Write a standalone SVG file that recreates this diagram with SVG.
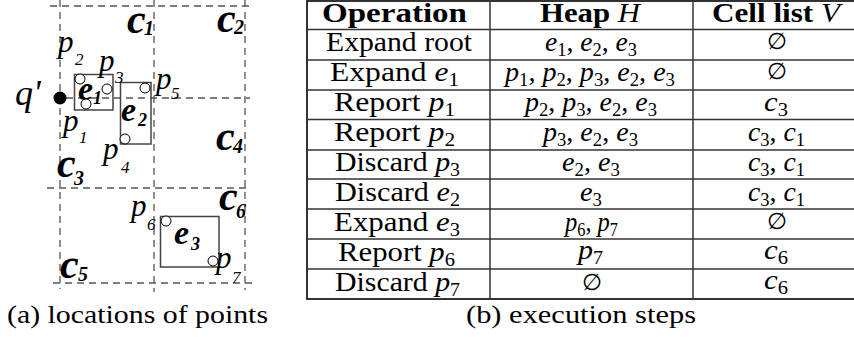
<svg xmlns="http://www.w3.org/2000/svg" width="854" height="337" viewBox="0 0 854 337">
  <style>
    .grid { fill: none; stroke: #555; stroke-width: 1.3; stroke-dasharray: 7 5; }
    .mbr { fill: none; stroke: #444; stroke-width: 1.5; }
    .pt { fill: #fff; stroke: #000; stroke-width: 1; }
    .it { font-family: "Liberation Serif", "Times New Roman", serif; font-style: italic; fill: #000; }
    .p { font-size: 31px; }
    .ps { font-size: 17px; }
    .cl { font-size: 42px; font-weight: bold; }
    .cs { font-size: 20px; font-weight: bold; }
    .el { font-size: 34px; font-weight: bold; }
    .es { font-size: 18px; font-weight: bold; }
    .tb { font-family: "Liberation Serif", "DejaVu Serif", serif; font-size: 27px; fill: #000; }
    .hd { font-weight: bold; }
    .mi { font-style: italic; }
    .sb { font-size: 18px; }
    .es0 { font-size: 23px; }
    .rule { stroke: #333; stroke-width: 1.5; }
    .frame { fill: none; stroke: #000; stroke-width: 1.6; }
    .cap { font-family: "Liberation Serif", "DejaVu Serif", serif; font-size: 26px; fill: #000; }
  </style>

  <!-- (a) grid of cells -->
  <g id="grid">
    <line class="grid" x1="60" y1="0" x2="60" y2="289"/>
    <line class="grid" x1="154" y1="0" x2="154" y2="292"/>
    <line class="grid" x1="245" y1="0" x2="245" y2="290"/>
    <line class="grid" x1="50" y1="6" x2="252" y2="6"/>
    <line class="grid" x1="66" y1="98" x2="250" y2="98"/>
    <line class="grid" x1="47" y1="188" x2="250" y2="188"/>
    <line class="grid" x1="53" y1="283" x2="255" y2="283"/>
  </g>

  <!-- cell labels -->
  <g id="cells">
    <text class="it cl" x="127" y="33">c<tspan class="cs" x="144" y="35">1</tspan></text>
    <text class="it cl" x="217" y="32">c<tspan class="cs" x="234" y="34">2</tspan></text>
    <text class="it cl" x="57" y="177">c<tspan class="cs" x="74" y="185">3</tspan></text>
    <text class="it cl" x="216" y="150">c<tspan class="cs" x="233" y="153">4</tspan></text>
    <text class="it cl" x="60" y="278">c<tspan class="cs" x="78" y="281">5</tspan></text>
    <text class="it cl" x="219" y="210">c<tspan class="cs" x="236" y="218">6</tspan></text>
  </g>

  <!-- query point -->
  <g id="q">
    <circle cx="60" cy="98" r="6.5" fill="#000"/>
    <text class="it" font-size="36" x="15" y="105">q'</text>
  </g>

  <!-- MBR e1 -->
  <g id="e1">
    <rect class="mbr" x="74.5" y="74.5" width="38.5" height="35.5"/>
    <text class="it el" x="78" y="100">e<tspan class="es" x="93" y="104">1</tspan></text>
  </g>

  <!-- MBR e2 -->
  <g id="e2">
    <rect class="mbr" x="120.5" y="82.5" width="30.5" height="61.5"/>
    <text class="it el" x="121" y="121">e<tspan class="es" x="138" y="126">2</tspan></text>
  </g>

  <!-- MBR e3 -->
  <g id="e3">
    <rect class="mbr" x="160.5" y="216.5" width="58.5" height="50.5"/>
    <text class="it el" x="174" y="244">e<tspan class="es" x="191" y="250">3</tspan></text>
  </g>

  <!-- data points -->
  <g id="p1">
    <circle class="pt" cx="86" cy="104" r="5"/>
    <text class="it p" x="63" y="131">p<tspan class="ps" x="79" y="143">1</tspan></text>
  </g>
  <g id="p2">
    <circle class="pt" cx="80" cy="79" r="5"/>
    <text class="it p" x="58" y="52">p<tspan class="ps" x="75" y="65">2</tspan></text>
  </g>
  <g id="p3">
    <circle class="pt" cx="107" cy="89" r="5"/>
    <text class="it p" x="99" y="71">p<tspan class="ps" x="115" y="83">3</tspan></text>
  </g>
  <g id="p4">
    <circle class="pt" cx="125" cy="139" r="5"/>
    <text class="it p" x="103" y="159">p<tspan class="ps" x="121" y="173">4</tspan></text>
  </g>
  <g id="p5">
    <circle class="pt" cx="145" cy="88" r="5"/>
    <text class="it p" x="156" y="89">p<tspan class="ps" x="171" y="99">5</tspan></text>
  </g>
  <g id="p6">
    <circle class="pt" cx="166" cy="221" r="5"/>
    <text class="it p" x="131" y="216">p<tspan class="ps" x="147" y="230">6</tspan></text>
  </g>
  <g id="p7">
    <circle class="pt" cx="213" cy="261" r="5"/>
    <text class="it p" x="216" y="268">p<tspan class="ps" x="232" y="283">7</tspan></text>
  </g>

  <!-- (b) table of steps -->
  <g id="table">
    <rect class="frame" x="307" y="1" width="548" height="298"/>
    <line class="rule" x1="490" y1="1" x2="490" y2="299"/>
    <line class="rule" x1="693" y1="1" x2="693" y2="299"/>
    <line class="rule" x1="307" y1="29.5" x2="854" y2="29.5"/>
    <line class="rule" x1="307" y1="60" x2="854" y2="60"/>
    <line class="rule" x1="307" y1="90" x2="854" y2="90"/>
    <line class="rule" x1="307" y1="119.5" x2="854" y2="119.5"/>
    <line class="rule" x1="307" y1="150" x2="854" y2="150"/>
    <line class="rule" x1="307" y1="179" x2="854" y2="179"/>
    <line class="rule" x1="307" y1="209" x2="854" y2="209"/>
    <line class="rule" x1="307" y1="239" x2="854" y2="239"/>
    <line class="rule" x1="307" y1="269" x2="854" y2="269"/>

    <!-- header -->
    <text class="tb hd" x="322" y="22" textLength="145" lengthAdjust="spacingAndGlyphs">Operation</text>
    <text class="tb" x="540" y="22" textLength="100" lengthAdjust="spacingAndGlyphs"><tspan class="hd">Heap </tspan><tspan class="mi">H</tspan></text>
    <text class="tb" x="712" y="22" textLength="128" lengthAdjust="spacingAndGlyphs"><tspan class="hd">Cell list </tspan><tspan class="mi">V</tspan></text>

    <!-- operation column -->
    <text class="tb" x="326" y="51" textLength="146" lengthAdjust="spacingAndGlyphs">Expand root</text>
    <text class="tb" x="330" y="81" textLength="129" lengthAdjust="spacingAndGlyphs">Expand <tspan class="mi">e</tspan><tspan class="sb" dy="5">1</tspan></text>
    <text class="tb" x="334" y="111" textLength="121" lengthAdjust="spacingAndGlyphs">Report <tspan class="mi">p</tspan><tspan class="sb" dy="5">1</tspan></text>
    <text class="tb" x="334" y="141" textLength="121" lengthAdjust="spacingAndGlyphs">Report <tspan class="mi">p</tspan><tspan class="sb" dy="5">2</tspan></text>
    <text class="tb" x="335" y="171" textLength="125" lengthAdjust="spacingAndGlyphs">Discard <tspan class="mi">p</tspan><tspan class="sb" dy="5">3</tspan></text>
    <text class="tb" x="335" y="201" textLength="125" lengthAdjust="spacingAndGlyphs">Discard <tspan class="mi">e</tspan><tspan class="sb" dy="5">2</tspan></text>
    <text class="tb" x="334" y="231" textLength="126" lengthAdjust="spacingAndGlyphs">Expand <tspan class="mi">e</tspan><tspan class="sb" dy="5">3</tspan></text>
    <text class="tb" x="338" y="261" textLength="117" lengthAdjust="spacingAndGlyphs">Report <tspan class="mi">p</tspan><tspan class="sb" dy="5">6</tspan></text>
    <text class="tb" x="335" y="291" textLength="125" lengthAdjust="spacingAndGlyphs">Discard <tspan class="mi">p</tspan><tspan class="sb" dy="5">7</tspan></text>

    <!-- heap column -->
    <text class="tb" x="545" y="51" textLength="92" lengthAdjust="spacingAndGlyphs"><tspan class="mi">e</tspan><tspan class="sb" dy="5">1</tspan><tspan dy="-5">, </tspan><tspan class="mi">e</tspan><tspan class="sb" dy="5">2</tspan><tspan dy="-5">, </tspan><tspan class="mi">e</tspan><tspan class="sb" dy="5">3</tspan></text>
    <text class="tb" x="505" y="81" textLength="170" lengthAdjust="spacingAndGlyphs"><tspan class="mi">p</tspan><tspan class="sb" dy="5">1</tspan><tspan dy="-5">, </tspan><tspan class="mi">p</tspan><tspan class="sb" dy="5">2</tspan><tspan dy="-5">, </tspan><tspan class="mi">p</tspan><tspan class="sb" dy="5">3</tspan><tspan dy="-5">, </tspan><tspan class="mi">e</tspan><tspan class="sb" dy="5">2</tspan><tspan dy="-5">, </tspan><tspan class="mi">e</tspan><tspan class="sb" dy="5">3</tspan></text>
    <text class="tb" x="525" y="111" textLength="132" lengthAdjust="spacingAndGlyphs"><tspan class="mi">p</tspan><tspan class="sb" dy="5">2</tspan><tspan dy="-5">, </tspan><tspan class="mi">p</tspan><tspan class="sb" dy="5">3</tspan><tspan dy="-5">, </tspan><tspan class="mi">e</tspan><tspan class="sb" dy="5">2</tspan><tspan dy="-5">, </tspan><tspan class="mi">e</tspan><tspan class="sb" dy="5">3</tspan></text>
    <text class="tb" x="543" y="141" textLength="95" lengthAdjust="spacingAndGlyphs"><tspan class="mi">p</tspan><tspan class="sb" dy="5">3</tspan><tspan dy="-5">, </tspan><tspan class="mi">e</tspan><tspan class="sb" dy="5">2</tspan><tspan dy="-5">, </tspan><tspan class="mi">e</tspan><tspan class="sb" dy="5">3</tspan></text>
    <text class="tb" x="562" y="171" textLength="58" lengthAdjust="spacingAndGlyphs"><tspan class="mi">e</tspan><tspan class="sb" dy="5">2</tspan><tspan dy="-5">, </tspan><tspan class="mi">e</tspan><tspan class="sb" dy="5">3</tspan></text>
    <text class="tb" x="580" y="201" textLength="22" lengthAdjust="spacingAndGlyphs"><tspan class="mi">e</tspan><tspan class="sb" dy="5">3</tspan></text>
    <text class="tb" x="565" y="231" textLength="53" lengthAdjust="spacingAndGlyphs"><tspan class="mi">p</tspan><tspan class="sb" dy="5">6</tspan><tspan dy="-5">, </tspan><tspan class="mi">p</tspan><tspan class="sb" dy="5">7</tspan></text>
    <text class="tb" x="578" y="259" textLength="25" lengthAdjust="spacingAndGlyphs"><tspan class="mi">p</tspan><tspan class="sb" dy="5">7</tspan></text>
    <text class="tb es0" x="591.5" y="290" text-anchor="middle">∅</text>

    <!-- cell list column -->
    <text class="tb es0" x="776.5" y="49" text-anchor="middle">∅</text>
    <text class="tb es0" x="776.5" y="79" text-anchor="middle">∅</text>
    <text class="tb" x="764" y="111" textLength="24" lengthAdjust="spacingAndGlyphs"><tspan class="mi">c</tspan><tspan class="sb" dy="5">3</tspan></text>
    <text class="tb" x="748" y="141" textLength="57" lengthAdjust="spacingAndGlyphs"><tspan class="mi">c</tspan><tspan class="sb" dy="5">3</tspan><tspan dy="-5">, </tspan><tspan class="mi">c</tspan><tspan class="sb" dy="5">1</tspan></text>
    <text class="tb" x="748" y="171" textLength="57" lengthAdjust="spacingAndGlyphs"><tspan class="mi">c</tspan><tspan class="sb" dy="5">3</tspan><tspan dy="-5">, </tspan><tspan class="mi">c</tspan><tspan class="sb" dy="5">1</tspan></text>
    <text class="tb" x="748" y="201" textLength="57" lengthAdjust="spacingAndGlyphs"><tspan class="mi">c</tspan><tspan class="sb" dy="5">3</tspan><tspan dy="-5">, </tspan><tspan class="mi">c</tspan><tspan class="sb" dy="5">1</tspan></text>
    <text class="tb es0" x="776.5" y="229" text-anchor="middle">∅</text>
    <text class="tb" x="764" y="259" textLength="24" lengthAdjust="spacingAndGlyphs"><tspan class="mi">c</tspan><tspan class="sb" dy="5">6</tspan></text>
    <text class="tb" x="764" y="289" textLength="24" lengthAdjust="spacingAndGlyphs"><tspan class="mi">c</tspan><tspan class="sb" dy="5">6</tspan></text>
  </g>

  <!-- captions -->
  <text class="cap" x="7" y="323" textLength="261" lengthAdjust="spacingAndGlyphs">(a) locations of points</text>
  <text class="cap" x="466" y="323" textLength="230" lengthAdjust="spacingAndGlyphs">(b) execution steps</text>
</svg>
